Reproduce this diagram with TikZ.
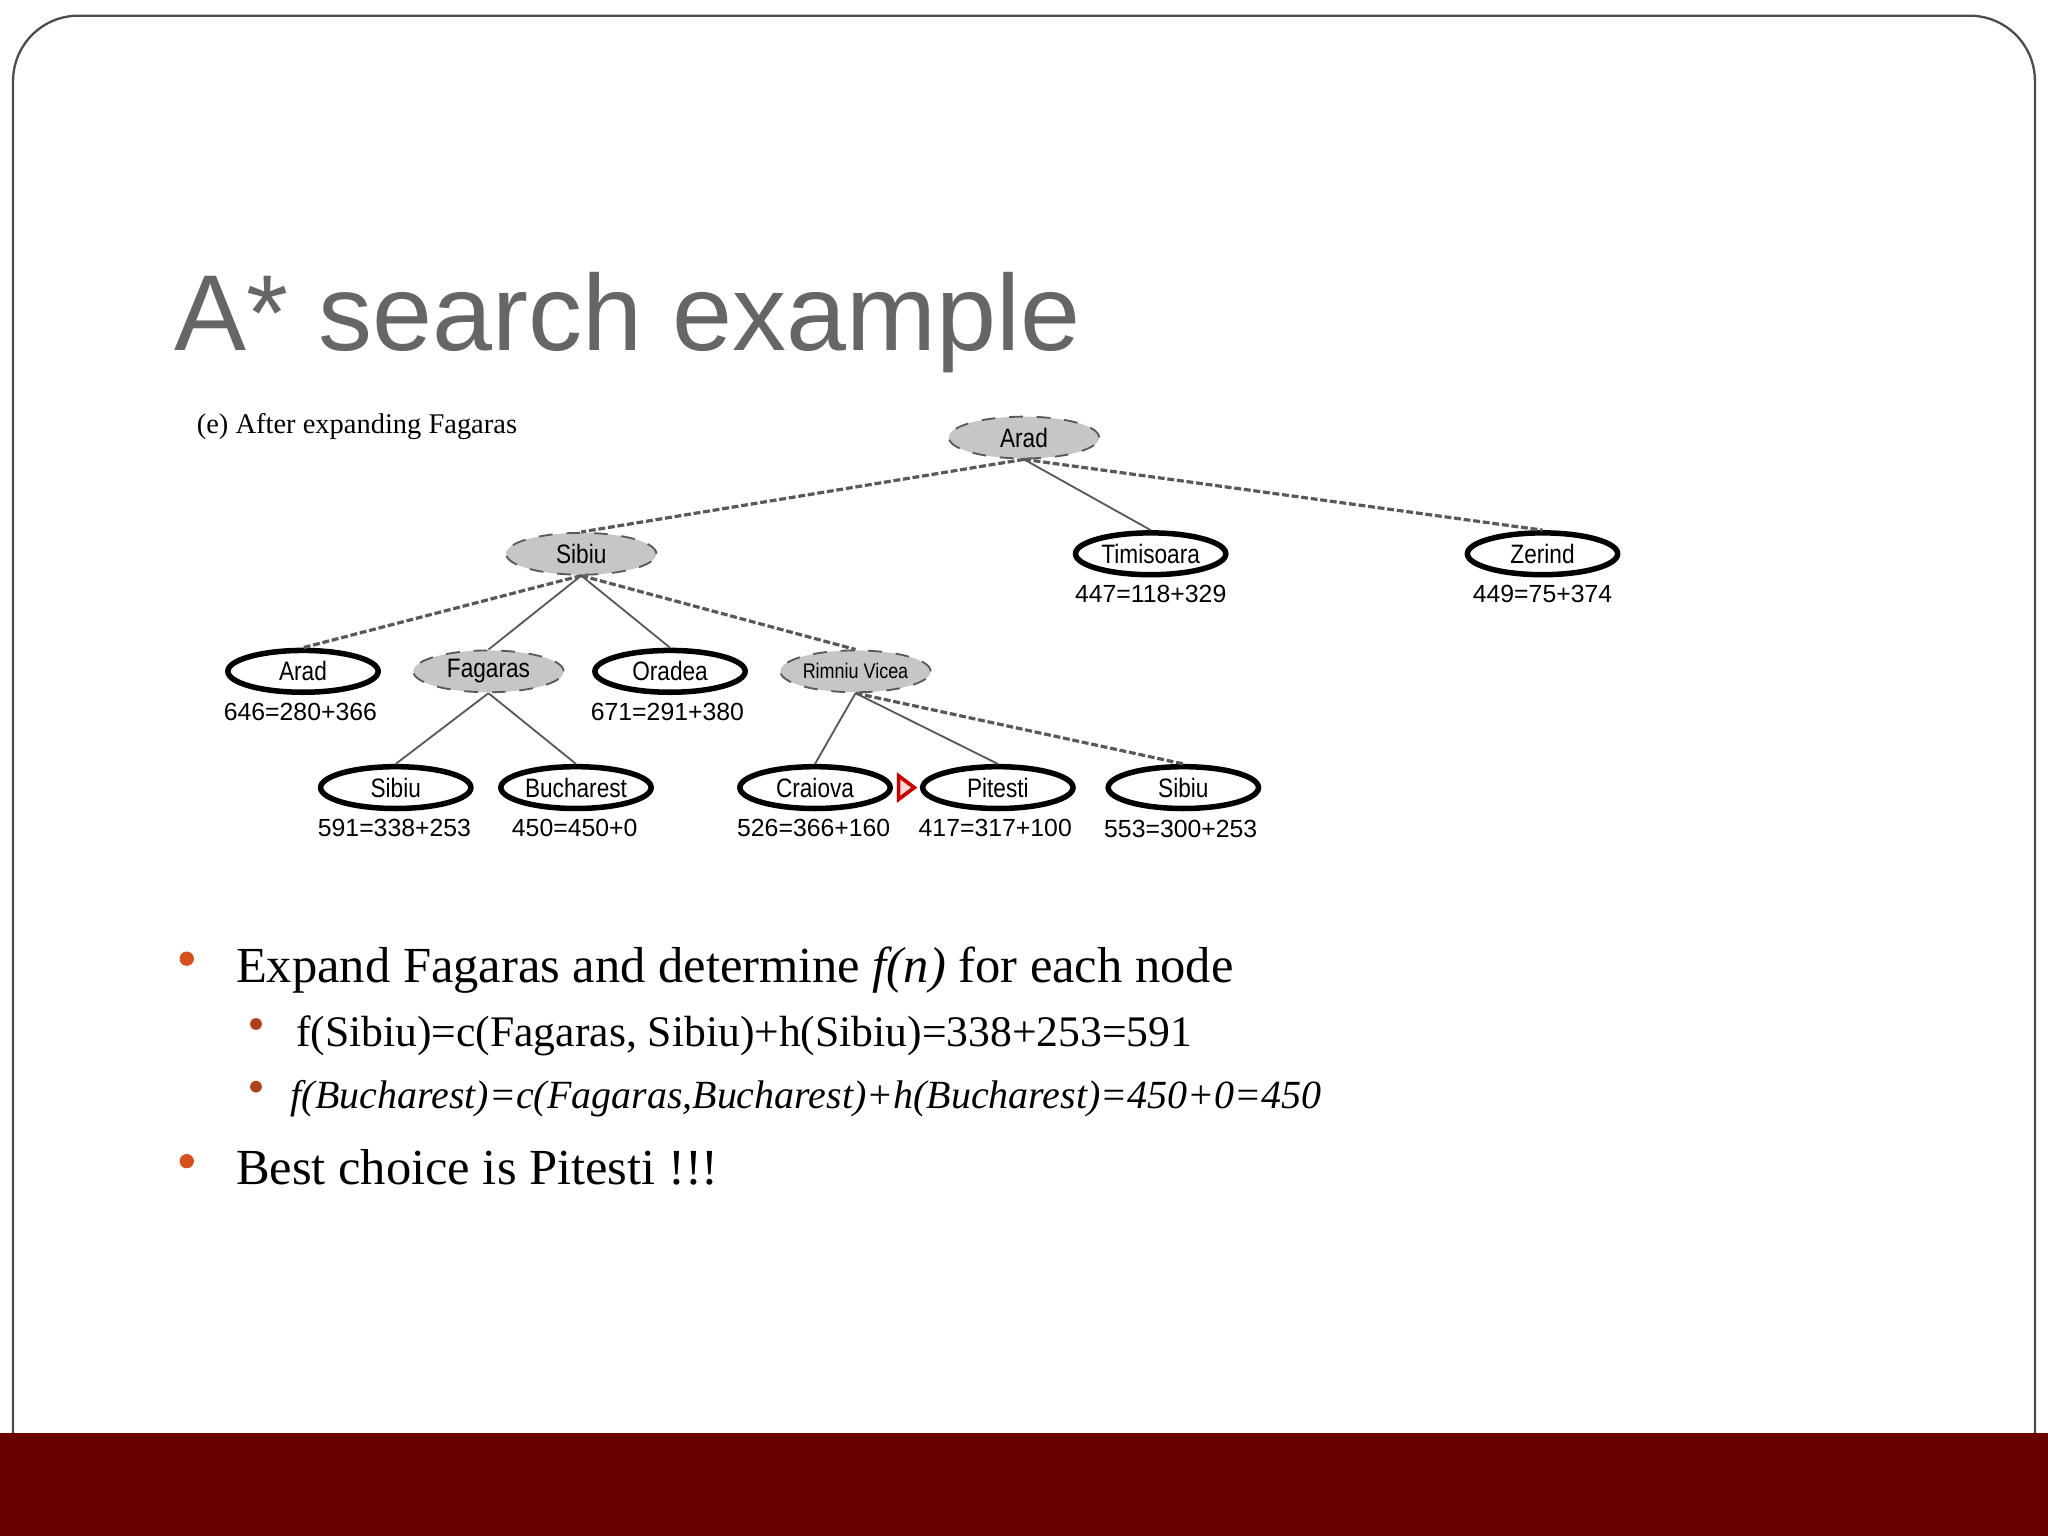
\documentclass[tikz,border=0pt]{standalone}
\usepackage{fontspec}
\setmainfont{Liberation Serif}
\newfontfamily\titlefont{Liberation Sans}
\newfontfamily\treefont[FakeStretch=0.85]{Liberation Sans}
\usetikzlibrary{shapes.geometric}
\definecolor{barred}{HTML}{6B0000}
\definecolor{bul}{HTML}{D9501F}
\definecolor{titlegray}{HTML}{666666}
\tikzset{
  st/.style={ellipse,draw=black,line width=1.2pt,fill=white,minimum width=1.15cm,minimum height=0.32cm,inner sep=0pt,font=\treefont\fontsize{5.8}{6}\selectfont},
  ex/.style={st,fill=gray!45,draw=gray!70!black,line width=0.4pt,dashed},
  lb/.style={font=\titlefont\fontsize{5.4}{6}\selectfont,inner sep=0pt},
  sol/.style={draw=gray!70!black,line width=0.4pt},
  das/.style={draw=gray!70!black,line width=0.7pt,dash pattern=on 1.5pt off 0.6pt},
}
\begin{document}
\begin{tikzpicture}[x=0.01cm,y=-0.01cm]
\useasboundingbox (0,0) rectangle (1568,1176);
\draw[gray!60!black,line width=0.5pt,rounded corners=0.5cm] (10,1100) -- (10,12) -- (1558,12) -- (1558,1100);
\fill[barred] (0,1097) rectangle (1568,1176);
\node[anchor=base west,inner sep=0,text=titlegray,font=\titlefont\fontsize{23.5}{28}\selectfont] (title) at (133,268) {A* search example};
\node[anchor=base west,inner sep=0,font=\fontsize{6.2}{7}\selectfont] (cap) at (150,332) {(e) After expanding Fagaras};
\node[ex] (a) at (784,335) {Arad};
\node[ex] (s) at (445,424) {Sibiu};
\node[st] (t) at (881,424) {Timisoara};
\node[st] (z) at (1181,424) {Zerind};
\node[st] (a2) at (232,514) {Arad};
\node[ex] (f) at (374,514) {Fagaras};
\node[st] (o) at (513,514) {Oradea};
\node[ex,font=\treefont\fontsize{4.6}{5}\selectfont] (r) at (655,514) {Rimniu Vicea};
\node[st] (s2) at (303,603) {Sibiu};
\node[st] (b) at (441,603) {Bucharest};
\node[st] (c) at (624,603) {Craiova};
\node[st] (p) at (764,603) {Pitesti};
\node[st] (s3) at (906,603) {Sibiu};
\node[lb] (lt) at (881,455) {447=118+329};
\node[lb] (lz) at (1181,455) {449=75+374};
\node[lb] (la2) at (230,545) {646=280+366};
\node[lb] (lo) at (511,545) {671=291+380};
\node[lb] (ls2) at (302,634) {591=338+253};
\node[lb] (lb2) at (440,634) {450=450+0};
\node[lb] (lc) at (623,634) {526=366+160};
\node[lb] (lp) at (762,634) {417=317+100};
\node[lb] (ls3) at (904,635) {553=300+253};
\draw[draw=red!80!black,fill=red!15,line width=0.8pt] (688,594) -- (700,603) -- (688,612) -- cycle;
\draw[das] (a.south) -- (s.north);
\draw[sol] (a.south) -- (t.north);
\draw[das] (a.south) -- (z.north);
\draw[das] (s.south) -- (a2.north);
\draw[sol] (s.south) -- (f.north);
\draw[sol] (s.south) -- (o.north);
\draw[das] (s.south) -- (r.north);
\draw[sol] (f.south) -- (s2.north);
\draw[sol] (f.south) -- (b.north);
\draw[sol] (r.south) -- (c.north);
\draw[sol] (r.south) -- (p.north);
\draw[das] (r.south) -- (s3.north);
\fill[bul] (143,734) circle (5.5);
\node[anchor=base west,inner sep=0,font=\fontsize{11}{12}\selectfont] (b1) at (180,752) {Expand Fagaras and determine \textit{f(n)} for each node};
\fill[bul!80!black] (196,784) circle (4.5);
\node[anchor=base west,inner sep=0,font=\fontsize{9.5}{10}\selectfont] (b2) at (226,801) {f(Sibiu)=c(Fagaras, Sibiu)+h(Sibiu)=338+253=591};
\fill[bul!80!black] (196,832) circle (4.5);
\node[anchor=base west,inner sep=0,font=\itshape\fontsize{8.7}{10}\selectfont] (b3) at (222,849) {f(Bucharest)=c(Fagaras,Bucharest)+h(Bucharest)=450+0=450};
\fill[bul] (143,889) circle (5.5);
\node[anchor=base west,inner sep=0,font=\fontsize{11}{12}\selectfont] (b4) at (180,907) {Best choice is Pitesti !!!};
\end{tikzpicture}
\end{document}
